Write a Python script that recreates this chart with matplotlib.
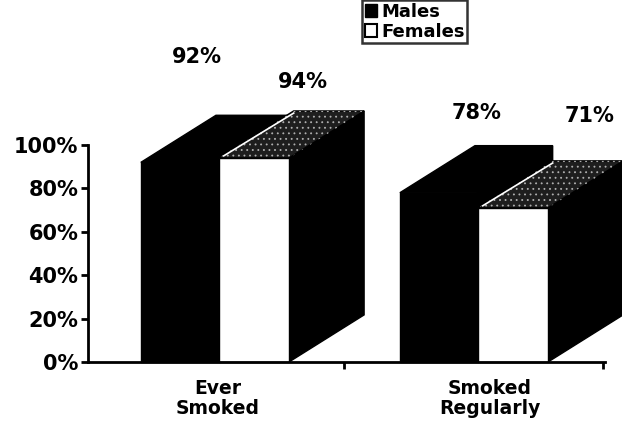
import matplotlib
matplotlib.use("Agg")
import matplotlib.pyplot as plt
from matplotlib.patches import Polygon, Patch

# ---- data ----
categories = ["Ever\nSmoked", "Smoked\nRegularly"]
series_names = ["Males", "Females"]
males = [92, 78]
females = [94, 71]
yticks = [0, 20, 40, 60, 80, 100]
ytick_labels = ["0%", "20%", "40%", "60%", "80%", "100%"]

# ---- layout / style ----
W, H = 622, 432
fig = plt.figure(figsize=(W / 100, H / 100), dpi=100)
ax = fig.add_axes([88 / W, 70 / H, (605 - 88) / W, 217 / H])
ax.set_xlim(-0.49, 1.506)
ax.set_ylim(0, 100)

FONT = "DejaVu Sans"
DX, DY = 0.29, 21.7          # depth offsets (data units)
bar_specs = [                 # (left offset, width)
    (-0.286, 0.300),
    (0.014, 0.272),
]
label_off = [                 # value-label anchors relative to group centre
    [(-0.07, 140.5), (0.012, 114.7)],
    [(0.34, 129.0), (0.448, 113.4)],
]
cat_xoff = [0.01, 0.06]

front_colors = ["black", "white"]
top_colors = ["black", "#1e1e1e"]


def draw_bar(xc, v, spec, front, top):
    off, w = spec
    x0, x1 = xc + off, xc + off + w
    side = Polygon([(x1, 0), (x1 + DX, DY), (x1 + DX, v + DY), (x1, v)],
                   closed=True, facecolor="black", edgecolor="black",
                   lw=1, clip_on=False, zorder=2)
    ax.add_patch(side)
    quad = [(x0, v), (x0 + DX, v + DY), (x1 + DX, v + DY), (x1, v)]
    tp = Polygon(quad, closed=True, facecolor=top, edgecolor="black",
                 lw=1, clip_on=False, zorder=2)
    ax.add_patch(tp)
    if top != "black":
        hp = Polygon(quad, closed=True, facecolor="none", edgecolor="#b0b0b0",
                     hatch="...", lw=0, clip_on=False, zorder=2.1)
        ax.add_patch(hp)
        ax.plot([x0 + 0.02, x0 + DX], [v + 1, v + DY - 1], color="white",
                lw=1.2, clip_on=False, zorder=2.2)
    ax.bar(x0, v, width=w, align="edge", color=front, edgecolor="black",
           lw=1, zorder=2.3, clip_on=False)


plt.rcParams["hatch.linewidth"] = 0.6
groups = [0, 1]
for si, vals in enumerate([males, females]):
    for gi, (xc, v) in enumerate(zip(groups, vals)):
        draw_bar(xc, v, bar_specs[si], front_colors[si], top_colors[si])
        lx, ly = label_off[si][gi]
        ax.text(xc + lx, ly, f"{v}%", ha="center", va="center", fontsize=15,
                fontweight="bold", family=FONT, clip_on=False)

# axes styling
for s in ["top", "right"]:
    ax.spines[s].set_visible(False)
ax.spines["left"].set_linewidth(2)
ax.spines["bottom"].set_linewidth(2)
ax.spines["left"].set_zorder(5)
ax.spines["bottom"].set_zorder(5)
ax.set_yticks(yticks)
ax.set_yticklabels(ytick_labels, fontsize=15, fontweight="bold", family=FONT)
ax.tick_params(axis="y", direction="out", length=5, width=2, pad=2)

ax.set_xticks([0.5, 1.5])
ax.set_xticklabels(["", ""])
ax.tick_params(axis="x", direction="out", length=5, width=2)
for xc, c, xo in zip(groups, categories, cat_xoff):
    ax.text(xc + xo, -8, c, ha="center", va="top", fontsize=13.5,
            fontweight="bold", family=FONT, linespacing=1.05,
            transform=ax.transData, clip_on=False)

# legend
handles = [Patch(facecolor="black", edgecolor="black"),
           Patch(facecolor="white", edgecolor="black", lw=1.5)]
leg = fig.legend(handles, series_names, loc="upper left",
                 bbox_to_anchor=(362 / W, 1.0), bbox_transform=fig.transFigure,
                 prop={"family": FONT, "weight": "bold", "size": 13},
                 handlelength=0.7, handleheight=0.7, handletextpad=0.2,
                 labelspacing=0.1, borderpad=0.15, borderaxespad=0.0,
                 fancybox=False, frameon=True, edgecolor="black")
leg.get_frame().set_linewidth(1.8)

fig.savefig("out.png", dpi=100)
